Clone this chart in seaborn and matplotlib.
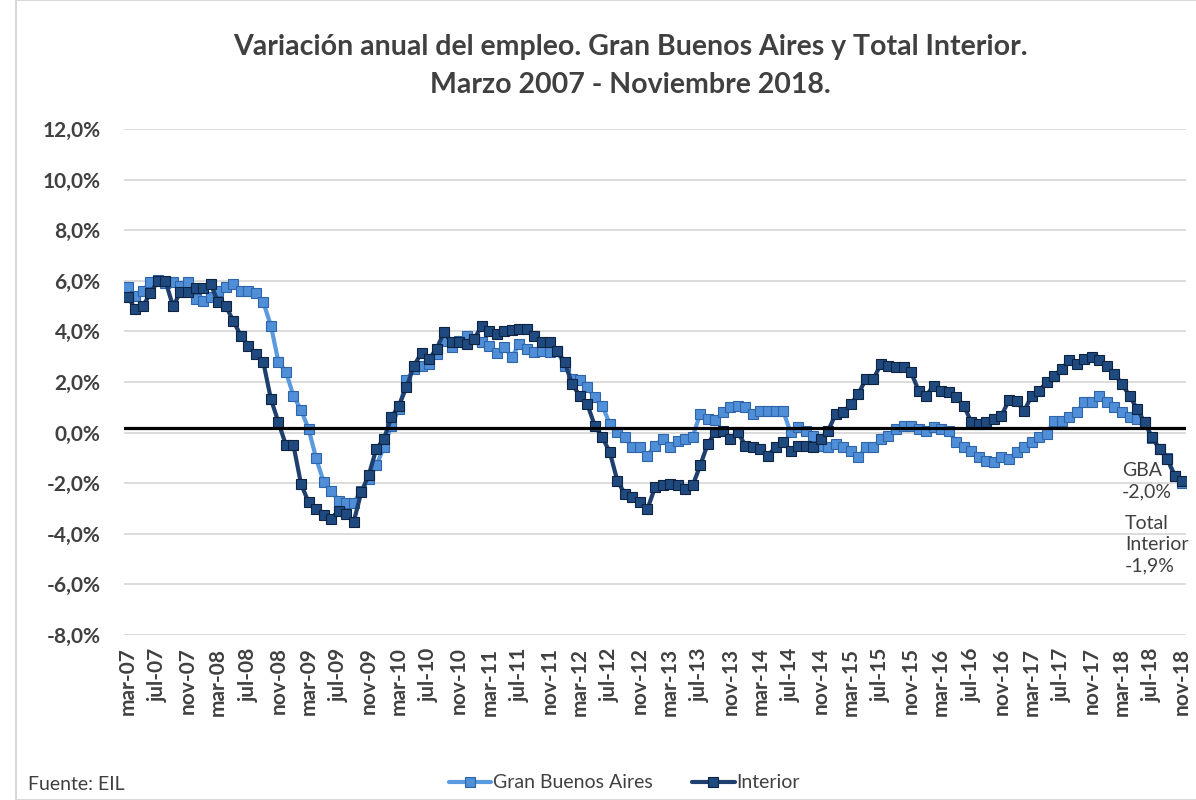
import numpy as np
import pandas as pd
import matplotlib
matplotlib.use("Agg")
import matplotlib.pyplot as plt
import seaborn as sns
from matplotlib.lines import Line2D
from matplotlib.patches import Rectangle

# Periodo: marzo 2007 a noviembre 2018 (mensual)
meses_es = ['ene', 'feb', 'mar', 'abr', 'may', 'jun', 'jul', 'ago', 'sep', 'oct', 'nov', 'dic']
fechas = pd.date_range('2007-03-01', '2018-11-01', freq='MS')
periodos = [f"{meses_es[d.month - 1]}-{d.strftime('%y')}" for d in fechas]

# Variación anual del empleo (%) - Gran Buenos Aires
gba = [5.75, 5.4, 5.6, 5.95, 6.05, 5.9, 5.95, 5.8, 5.95, 5.3, 5.2, 5.35,
       5.6, 5.75, 5.88, 5.6, 5.6, 5.5, 5.15, 4.23, 2.8, 2.4, 1.45, 0.9,
       0.15, -1.01, -1.94, -2.29, -2.69, -2.78, -2.78, -2.29, -1.83, -1.3, -0.58, 0.28,
       0.94, 2.06, 2.52, 2.65, 2.72, 3.11, 3.64, 3.37, 3.64, 3.83, 3.68,
       3.57, 3.44, 3.13, 3.37, 3.0, 3.5, 3.31, 3.17, 3.24, 3.17, 3.24, 2.65,
       2.12, 2.06, 1.79, 1.4, 1.07, 0.34, 0.01, -0.19, -0.58, -0.58, -0.91, -0.51,
       -0.25, -0.58, -0.32, -0.25, -0.16, 0.74, 0.54, 0.48, 0.8, 1.03, 1.07, 1.0,
       0.74, 0.87, 0.87, 0.87, 0.87, 0.01, 0.21, 0.08, -0.12, -0.51, -0.58, -0.45,
       -0.58, -0.71, -0.98, -0.58, -0.58, -0.25, -0.12, 0.15, 0.28, 0.28, 0.15, 0.08,
       0.24, 0.15, 0.08, -0.38, -0.58, -0.71, -0.98, -1.11, -1.17, -0.98, -1.05, -0.78,
       -0.55, -0.38, -0.19, -0.05, 0.47, 0.47, 0.6, 0.8, 1.2, 1.2, 1.46, 1.2,
       1.0, 0.8, 0.6, 0.54, 0.41, -0.2, -0.65, -1.0, -1.7, -2.0]

# Variación anual del empleo (%) - Total Interior
interior = [5.35, 4.9, 5.0, 5.5, 6.0, 6.0, 5.0, 5.55, 5.55, 5.7, 5.7, 5.88,
            5.15, 5.0, 4.43, 3.83, 3.44, 3.11, 2.78, 1.33, 0.41, -0.5, -0.5, -2.03,
            -2.75, -3.02, -3.25, -3.41, -3.08, -3.21, -3.52, -2.36, -1.67, -0.65, -0.25, 0.6,
            1.07, 1.79, 2.65, 3.15, 2.91, 3.31, 3.97, 3.57, 3.57, 3.5, 3.7,
            4.23, 4.03, 3.9, 4.03, 4.06, 4.1, 4.1, 3.83, 3.57, 3.57, 3.24, 2.78,
            1.92, 1.46, 1.13, 0.28, -0.18, -0.78, -1.9, -2.42, -2.56, -2.75, -3.02, -2.16,
            -2.09, -2.03, -2.09, -2.23, -2.09, -1.3, -0.45, 0.01, 0.08, -0.25, 0.01, -0.51,
            -0.58, -0.65, -0.91, -0.58, -0.38, -0.71, -0.51, -0.51, -0.58, -0.25, 0.08, 0.74,
            0.8, 1.13, 1.53, 2.12, 2.12, 2.71, 2.65, 2.61, 2.58, 2.38, 1.66, 1.46,
            1.86, 1.66, 1.59, 1.4, 1.07, 0.41, 0.34, 0.41, 0.54, 0.67, 1.29, 1.26,
            0.84, 1.46, 1.66, 1.99, 2.25, 2.52, 2.85, 2.71, 2.91, 2.98, 2.85, 2.65,
            2.32, 1.92, 1.46, 0.94, 0.41, -0.19, -0.65, -1.04, -1.7, -1.9]

linea_ref = 0.2
y_ticks = [-8, -6, -4, -2, 0, 2, 4, 6, 8, 10, 12]

df = pd.DataFrame({'idx': np.arange(len(periodos)), 'periodo': periodos,
                   'Gran Buenos Aires': gba, 'Interior': interior})

sns.set_style("white")
plt.rcParams['font.family'] = ['Lato', 'DejaVu Sans']

c_gba = '#5A9AE0'
c_int = '#1F3F6E'
txt = '#404040'
mk_gba = dict(marker='s', markersize=7.5, markerfacecolor='#4F8FD8',
              markeredgecolor='#2F65A8', markeredgewidth=0.8)
mk_int = dict(marker='s', markersize=7.5, markerfacecolor='#1F4A80',
              markeredgecolor='#0E2340', markeredgewidth=0.8)

fig = plt.figure(figsize=(11.96, 8), dpi=100)
fig.patches.append(Rectangle((16 / 1196, 0), 1, 1, transform=fig.transFigure,
                             fill=False, edgecolor='#D0D0D0', lw=1.2))
ax = fig.add_axes([124 / 1196, 1 - 635 / 800, (1186 - 124) / 1196, (635 - 129) / 800])

for y in y_ticks:
    ax.axhline(y, color='#D9D9D9', lw=1.3, zorder=0)

sns.lineplot(data=df, x='idx', y='Gran Buenos Aires', ax=ax, color=c_gba, lw=3,
             zorder=3, **mk_gba)
sns.lineplot(data=df, x='idx', y='Interior', ax=ax, color=c_int, lw=3,
             zorder=4, **mk_int)
ax.axhline(linea_ref, color='black', lw=2.3, zorder=5)

ax.set_xlim(-0.5, len(periodos) - 0.5)
ax.set_ylim(-8, 12)
ax.set_yticks(y_ticks)
ax.set_yticklabels([f"{v:.1f}%".replace('.', ',') for v in y_ticks],
                   fontsize=15, fontweight='bold', color=txt)
pos = list(range(0, len(periodos), 4))
ax.set_xticks(pos)
ax.set_xticklabels([periodos[p] for p in pos], rotation=90, fontsize=15,
                   fontweight='bold', color=txt)
ax.tick_params(axis='y', length=0, pad=17)
ax.tick_params(axis='x', length=0, pad=9)
ax.set_xlabel('')
ax.set_ylabel('')
for s in ax.spines.values():
    s.set_visible(False)

ax.text(132.0, -1.15, "GBA\n-2,0%", fontsize=14, color=txt, va='top',
        linespacing=1.3)
ax.text(132.4, -3.25, "Total\nInterior\n-1,9%", fontsize=14, color=txt, va='top',
        linespacing=1.3)

fig.text(0.527, 1 - 47 / 800, "Variación anual del empleo. Gran Buenos Aires y Total Interior.",
         ha='center', va='center', fontsize=20.5, fontweight='bold', color=txt)
fig.text(0.527, 1 - 85 / 800, "Marzo 2007 - Noviembre 2018.",
         ha='center', va='center', fontsize=20.5, fontweight='bold', color=txt)

handles = [Line2D([], [], color=c_gba, lw=3, **mk_gba),
           Line2D([], [], color=c_int, lw=3, **mk_int)]
fig.legend(handles, ['Gran Buenos Aires', 'Interior'], loc='center',
           bbox_to_anchor=(0.522, 1 - 783 / 800), ncol=2, frameon=False,
           fontsize=14, handlelength=2.2, handletextpad=0.1, columnspacing=2.0,
           labelcolor=txt)

fig.text(28 / 1196, 1 - 785 / 800, "Fuente: EIL", fontsize=14, color=txt, va='center')

fig.savefig('out.png', dpi=100)
